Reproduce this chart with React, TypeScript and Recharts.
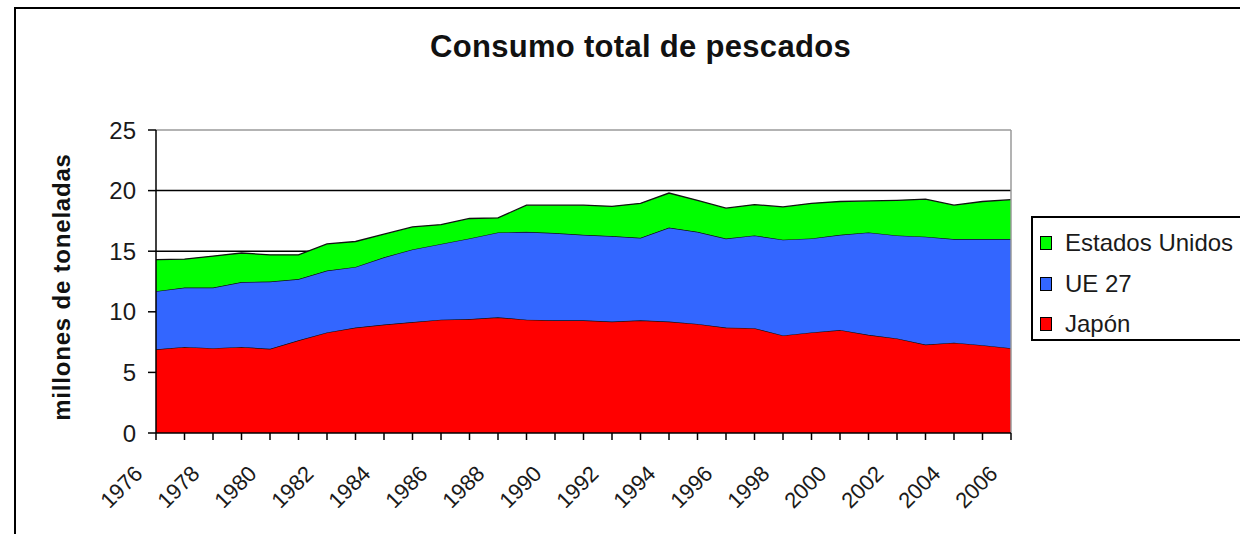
import React from "react";
import {
  AreaChart,
  Area,
  XAxis,
  YAxis,
  CartesianGrid,
  ReferenceLine,
  Legend,
} from "recharts";

const years = [
  "1976", "1977", "1978", "1979", "1980", "1981", "1982", "1983", "1984", "1985",
  "1986", "1987", "1988", "1989", "1990", "1991", "1992", "1993", "1994", "1995",
  "1996", "1997", "1998", "1999", "2000", "2001", "2002", "2003", "2004", "2005",
  "2006",
];

const japon = [
  6.9, 7.1, 7.0, 7.1, 6.95, 7.65, 8.3, 8.7, 8.95, 9.15,
  9.35, 9.4, 9.55, 9.35, 9.3, 9.3, 9.2, 9.3, 9.2, 9.0,
  8.7, 8.65, 8.05, 8.3, 8.5, 8.1, 7.8, 7.3, 7.45, 7.25,
  7.0,
];

const ue27 = [
  4.8, 4.9, 5.0, 5.35, 5.55, 5.05, 5.1, 5.0, 5.55, 6.0,
  6.25, 6.65, 7.0, 7.25, 7.2, 7.05, 7.05, 6.8, 7.75, 7.6,
  7.35, 7.65, 7.9, 7.75, 7.85, 8.45, 8.5, 8.9, 8.55, 8.75,
  9.0,
];

const eeuu = [
  2.6, 2.35, 2.6, 2.4, 2.2, 2.0, 2.2, 2.1, 1.9, 1.85,
  1.6, 1.65, 1.2, 2.2, 2.3, 2.45, 2.45, 2.85, 2.85, 2.6,
  2.5, 2.55, 2.7, 2.9, 2.75, 2.6, 2.9, 3.1, 2.8, 3.1,
  3.25,
];

const yTicks = [0, 5, 10, 15, 20, 25];
const gridValues = [5, 10, 15, 20];

const seriesNames = { japon: "Japón", ue27: "UE 27", eeuu: "Estados Unidos" };
const seriesColors = { japon: "#FF0000", ue27: "#3366FF", eeuu: "#00FF00" };
const legendOrder = ["eeuu", "ue27", "japon"] as const;
const title = "Consumo total de pescados";
const yLabel = "millones de toneladas";

const data = years.map((y, i) => ({
  year: y,
  japon: japon[i],
  ue27: ue27[i],
  eeuu: eeuu[i],
}));

const FONT = "Arial, 'Liberation Sans', sans-serif";

const XTick = (props: any) => {
  const { x, y, payload } = props;
  const showLabel = Number(payload.value) % 2 === 0;
  const tx = x - 12;
  const ty = y + 42;
  return (
    <g>
      <line x1={x} y1={y} x2={x} y2={y + 7} stroke="#000" strokeWidth={1.5} />
      {showLabel && (
        <text
          x={tx}
          y={ty}
          transform={`rotate(-45, ${tx}, ${ty})`}
          textAnchor="end"
          fontSize={22}
          fontFamily={FONT}
          fill="#1a1a1a"
        >
          {payload.value}
        </text>
      )}
    </g>
  );
};

const LegendBox = () => {
  const rows = [25, 66, 106];
  return (
    <div
      style={{
        width: 260,
        height: 125,
        border: "2px solid #000",
        boxSizing: "border-box",
        background: "#fff",
        position: "relative",
        fontFamily: FONT,
      }}
    >
      {legendOrder.map((k, i) => (
        <div
          key={k}
          style={{
            position: "absolute",
            left: 7,
            top: rows[i] - 15,
            height: 30,
            display: "flex",
            alignItems: "center",
            whiteSpace: "nowrap",
          }}
        >
          <span
            style={{
              display: "inline-block",
              width: 10,
              height: 12,
              background: seriesColors[k],
              border: "1.5px solid #000",
              marginRight: 13,
            }}
          />
          <span style={{ fontSize: 24, color: "#1a1a1a" }}>{seriesNames[k]}</span>
        </div>
      ))}
    </div>
  );
};

export default function App() {
  return (
    <div
      style={{
        position: "absolute",
        left: 0,
        top: 0,
        width: 1240,
        height: 534,
        overflow: "hidden",
        background: "#fff",
        fontFamily: FONT,
      }}
    >
      <div
        style={{
          position: "absolute",
          left: 14,
          top: 7,
          width: 1400,
          height: 700,
          borderTop: "2px solid #000",
          borderLeft: "2px solid #000",
        }}
      />
      <div
        style={{
          position: "absolute",
          left: 0,
          top: 31,
          width: 1281,
          textAlign: "center",
          fontSize: 31,
          fontWeight: "bold",
          color: "#111",
          lineHeight: "31px",
          letterSpacing: 0.3,
        }}
      >
        {title}
      </div>
      <div
        style={{
          position: "absolute",
          left: 62,
          top: 287,
          transform: "translate(-50%, -50%) rotate(-90deg)",
          fontSize: 24,
          fontWeight: "bold",
          color: "#111",
          whiteSpace: "nowrap",
          letterSpacing: 0.8,
        }}
      >
        {yLabel}
      </div>
      <div style={{ position: "absolute", left: 0, top: 0 }}>
        <AreaChart
          width={1240}
          height={534}
          data={data}
          margin={{ top: 130, right: 229, bottom: 0, left: 0 }}
        >
          <CartesianGrid
            horizontal={true}
            vertical={false}
            horizontalValues={gridValues}
            stroke="#000"
            strokeWidth={1.5}
          />
          <XAxis
            dataKey="year"
            height={101}
            interval={0}
            tickLine={false}
            tickSize={0}
            tickMargin={0}
            axisLine={{ stroke: "#000", strokeWidth: 1.5 }}
            tick={<XTick />}
          />
          <YAxis
            width={156}
            domain={[0, 25]}
            ticks={yTicks}
            interval={0}
            tickSize={8}
            tickMargin={12}
            axisLine={{ stroke: "#000", strokeWidth: 1.5 }}
            tickLine={{ stroke: "#000", strokeWidth: 1.5 }}
            tick={{ fontSize: 24, fill: "#1a1a1a", fontFamily: FONT }}
          />
          <Area
            type="linear"
            dataKey="japon"
            name={seriesNames.japon}
            stackId="1"
            fill={seriesColors.japon}
            fillOpacity={1}
            stroke="#111"
            strokeWidth={1.3}
            isAnimationActive={false}
          />
          <Area
            type="linear"
            dataKey="ue27"
            name={seriesNames.ue27}
            stackId="1"
            fill={seriesColors.ue27}
            fillOpacity={1}
            stroke="#111"
            strokeWidth={1.3}
            isAnimationActive={false}
          />
          <Area
            type="linear"
            dataKey="eeuu"
            name={seriesNames.eeuu}
            stackId="1"
            fill={seriesColors.eeuu}
            fillOpacity={1}
            stroke="#111"
            strokeWidth={1.3}
            isAnimationActive={false}
          />
          <ReferenceLine y={25} stroke="#9a9a9a" strokeWidth={1.5} />
          <ReferenceLine x="2006" stroke="#9a9a9a" strokeWidth={1.5} />
          <Legend
            layout="vertical"
            align="center"
            verticalAlign="middle"
            content={<LegendBox />}
            wrapperStyle={{ position: "absolute", left: 1031, top: 216, width: 260, height: 125 }}
          />
        </AreaChart>
      </div>
    </div>
  );
}
